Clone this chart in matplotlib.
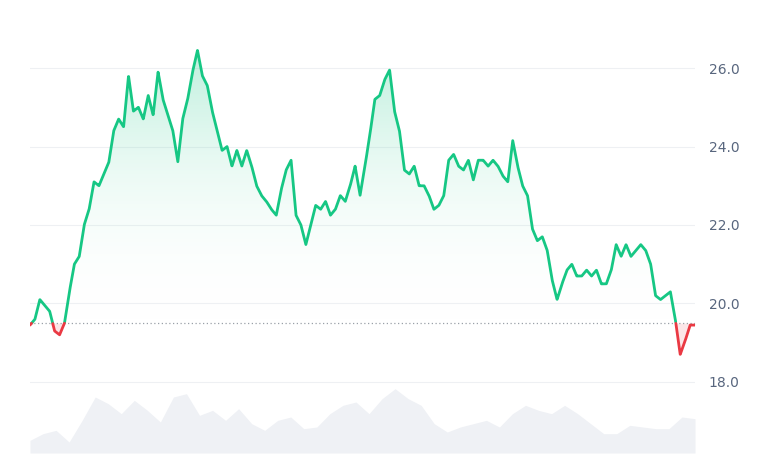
import numpy as np
import matplotlib
matplotlib.use("Agg")
import matplotlib.pyplot as plt
import matplotlib.dates as mdates
from matplotlib.colors import LinearSegmentedColormap
import datetime as dt

price = [19.45,19.6,20.1,19.95,19.8,19.3,19.2,19.5,20.3,21.0,21.2,22.0,22.4,23.1,23.0,23.3,23.6,24.4,24.7,24.5,
         25.8,24.9,25.0,24.7,25.3,24.8,25.9,25.2,24.8,24.4,23.6,24.7,25.2,25.9,26.45,25.8,25.55,24.9,24.4,23.9,
         24.0,23.5,23.9,23.5,23.9,23.5,23.0,22.75,22.6,22.4,22.25,22.9,23.4,23.65,22.25,22.0,21.5,22.0,22.5,22.4,
         22.6,22.25,22.4,22.75,22.6,23.0,23.5,22.75,23.5,24.3,25.2,25.3,25.7,25.95,24.9,24.4,23.4,23.3,23.5,23.0,
         23.0,22.75,22.4,22.5,22.75,23.65,23.8,23.5,23.4,23.65,23.15,23.65,23.65,23.5,23.65,23.5,23.25,23.1,24.15,23.5,
         23.0,22.75,21.9,21.6,21.7,21.35,20.6,20.1,20.5,20.85,21.0,20.7,20.7,20.85,20.7,20.85,20.5,20.5,20.85,21.5,
         21.2,21.5,21.2,21.35,21.5,21.35,21.0,20.2,20.1,20.2,20.3,19.6,18.7,19.05,19.45,19.45]
volume = [38,58,68,33,98,168,148,118,158,128,93,168,178,113,128,98,133,88,68,98,108,73,78,118,143,
          153,118,163,193,163,143,88,63,78,88,98,78,118,143,128,118,143,118,88,58,58,83,78,73,73,108,103]
baseline = 19.5
tick_labels = ["12 May", "19 May", "26 May", "2 Jun"]

# x mapping: pixel 30 -> start, ~152 px per week
def px2date(p):
    return dt.datetime(2024, 5, 12) + dt.timedelta(days=(p - 130) / 152 * 7)

t0, t1 = px2date(30), px2date(695)
px = np.linspace(30, 695, len(price))
x = [px2date(p) for p in px]
vx = [px2date(p) for p in np.linspace(30, 695, len(volume))]
xn = mdates.date2num(x)
vxn = mdates.date2num(vx)

W, H = 780, 470
fig = plt.figure(figsize=(W/100, H/100), dpi=100)
ax = fig.add_axes([30/W, (H-453)/H, 665/W, 453/H])
ppu = 39.25
ytop = 26 + 68/ppu
ybot = 26 - (453-68)/ppu
ax.set_xlim(mdates.date2num(t0), mdates.date2num(t1))
ax.set_ylim(ybot, ytop)

# volume
vscale = (1/3)/ppu * 1.0
vv = ybot + np.array(volume) * vscale
ax.fill_between(vxn, ybot, vv, color="#eff1f5", lw=0, zorder=1)

# grid
for g in [18, 20, 22, 24, 26]:
    ax.axhline(g, color="#eef0f3", lw=0.8, zorder=0)
ax.axhline(baseline, color="#9aa0a8", lw=0.9, ls=(0, (1, 2)), zorder=3)

p = np.array(price)
# gradient fill above baseline
cmap = LinearSegmentedColormap.from_list("g", [(1, 1, 1, 0), (22/255, 199/255, 132/255, 0.28)])
grad = np.linspace(0, 1, 256).reshape(-1, 1)
im = ax.imshow(grad, extent=[xn[0], xn[-1], baseline, max(p)], origin="lower", aspect="auto", cmap=cmap, zorder=2)
poly = ax.fill_between(xn, baseline, np.maximum(p, baseline), color="none", lw=0)
im.set_clip_path(poly.get_paths()[0], transform=ax.transData)
ax.fill_between(xn, baseline, np.minimum(p, baseline), color="#ea3943", alpha=0.12, lw=0, zorder=2)

# line, colored by side of baseline
xf = np.linspace(xn[0], xn[-1], 4000)
pf = np.interp(xf, xn, p)
above = np.ma.masked_where(pf < baseline, pf)
below = np.ma.masked_where(pf > baseline, pf)
ax.plot(xf, above, color="#16c784", lw=2, zorder=4, solid_capstyle="round")
ax.plot(xf, below, color="#ea3943", lw=2, zorder=4, solid_capstyle="round")

ax.yaxis.tick_right()
ax.set_yticks([18, 20, 22, 24, 26])
ax.set_yticklabels(["18.0", "20.0", "22.0", "24.0", "26.0"])
ticks = [dt.datetime(2024, 5, 12), dt.datetime(2024, 5, 19), dt.datetime(2024, 5, 26), dt.datetime(2024, 6, 2)]
ax.set_xticks(mdates.date2num(ticks))
ax.set_xticklabels(tick_labels)
ax.tick_params(axis="y", length=0, pad=10, labelsize=10, colors="#58667e")
ax.tick_params(axis="x", length=0, pad=14, labelsize=10, colors="#58667e")
for s in ax.spines.values():
    s.set_visible(False)
fig.savefig("out.png", dpi=100, facecolor="white")
